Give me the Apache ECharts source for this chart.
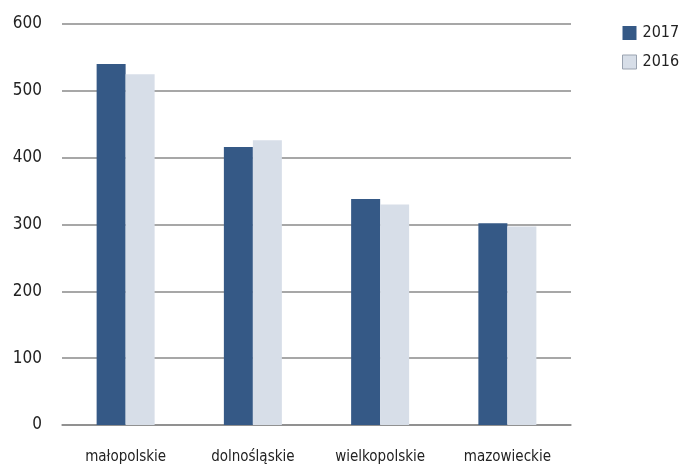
<!DOCTYPE html>
<html>
<head>
<meta charset="utf-8">
<script src="https://cdn.jsdelivr.net/npm/echarts@6/dist/echarts.min.js"></script>
<style>html,body{margin:0;padding:0;background:#fff}#c{width:683px;height:468px}</style>
</head>
<body>
<div id="c"></div>
<script>
var categories = ['małopolskie', 'dolnośląskie', 'wielkopolskie', 'mazowieckie'];
var values2017 = [540, 416, 338, 302];
var values2016 = [525, 426, 330, 297];
var yTicks = [0, 100, 200, 300, 400, 500, 600];

var FONT = '"DejaVu Sans Condensed", "Liberation Sans Narrow", sans-serif';
var chart = echarts.init(document.getElementById('c'), null, {renderer: 'canvas'});
chart.setOption({
  animation: false,
  textStyle: {fontFamily: FONT},
  grid: {left: 62, right: 112, top: 24, bottom: 43},
  legend: {
    orient: 'vertical', left: 617, top: 20,
    itemWidth: 14, itemHeight: 14, itemGap: 13,
    icon: 'rect',
    textStyle: {fontFamily: FONT, fontSize: 16, color: '#222', padding: [0, 0, 0, 1]},
    data: [
      {name: '2017'},
      {name: '2016', itemStyle: {borderColor: '#9aa3b0', borderWidth: 1}}
    ]
  },
  xAxis: {
    type: 'category', data: categories,
    axisLine: {lineStyle: {color: '#8a8a8a', width: 1.5}},
    axisTick: {show: false},
    axisLabel: {fontFamily: FONT, fontSize: 15, color: '#222', margin: 25, interval: 0}
  },
  yAxis: {
    type: 'value', min: yTicks[0], max: yTicks[yTicks.length - 1], interval: 100,
    axisLine: {show: false}, axisTick: {show: false},
    splitLine: {lineStyle: {color: '#8a8a8a', width: 1.5}},
    axisLabel: {fontFamily: FONT, fontSize: 17, color: '#222', margin: 20}
  },
  series: [
    {name: '2017', type: 'bar', data: values2017, barWidth: 29, barGap: '0%',
     itemStyle: {color: '#355986'}},
    {name: '2016', type: 'bar', data: values2016, barWidth: 29,
     itemStyle: {color: '#d7dee8'}}
  ]
});
</script>
</body>
</html>
